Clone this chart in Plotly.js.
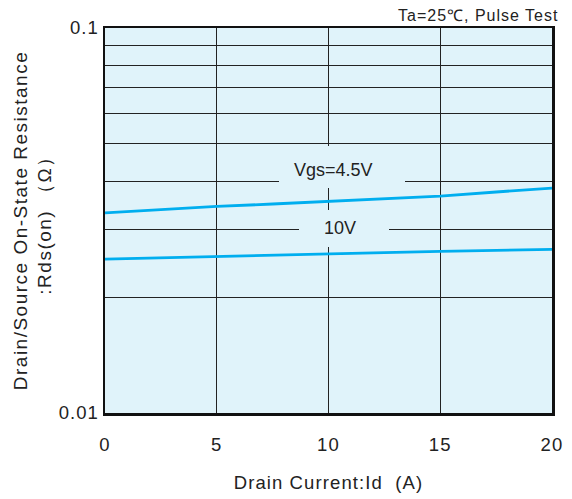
<!DOCTYPE html>
<html>
<head>
<meta charset="utf-8">
<script src="https://cdn.plot.ly/plotly-3.0.1.min.js"></script>
<style>
html,body{margin:0;padding:0;background:#fff;}
#chart{width:572px;height:499px;}
#chart .xtick text{letter-spacing:1.2px;}
#chart .ytick text{letter-spacing:1px;}
#chart .g-xtitle text{letter-spacing:1.1px;}
#chart .g-ytitle text{letter-spacing:1.5px;}
#chart .cond text{letter-spacing:1px;}
</style>
</head>
<body>
<div id="chart"></div>
<script>
// Data
var drainCurrent = [0, 2.5, 5, 7.5, 10, 12.5, 15, 17.5, 20];
var rdsVgs45 = [0.0331, 0.0338, 0.0344, 0.0349, 0.0355, 0.0361, 0.0366, 0.0375, 0.0384];
var rdsVgs10 = [0.0251, 0.0253, 0.0256, 0.0258, 0.0260, 0.0261, 0.0263, 0.0265, 0.0266];
var seriesNames = ["Vgs=4.5V", "10V"];
var yTickVals = [0.01, 0.02, 0.03, 0.04, 0.05, 0.06, 0.07, 0.08, 0.09, 0.1];
var yTickText = ["0.01", "", "", "", "", "", "", "", "", "0.1"];
var xTickVals = [0, 5, 10, 15, 20];
var conditionText = "Ta=25℃, Pulse Test";

var lineColor = "#00aeef";
var bg = "#e0f3fa";
var font = "Liberation Sans, Arial, sans-serif";
var txt = "#222";

var traces = [
  {x: drainCurrent, y: rdsVgs45, mode: "lines", name: seriesNames[0], line: {color: lineColor, width: 2.8}},
  {x: drainCurrent, y: rdsVgs10, mode: "lines", name: seriesNames[1], line: {color: lineColor, width: 2.8}}
];

function px2x(p){ return (p - 105) / 447; }
function py2y(p){ return (413 - p) / 385; }

var layout = {
  width: 572, height: 499,
  margin: {l: 105, r: 20, t: 28, b: 86},
  paper_bgcolor: "#fff",
  plot_bgcolor: bg,
  showlegend: false,
  font: {family: font, size: 18, color: txt},
  xaxis: {
    range: [0, 20], tickvals: xTickVals, ticks: "", showgrid: true,
    gridcolor: "#222", gridwidth: 1, zeroline: false,
    showline: true, linecolor: "#111", linewidth: 2.5, mirror: true,
    ticklabelstandoff: 13,
    tickfont: {size: 18.5, color: txt},
    title: {text: "Drain Current:Id  (A)", font: {size: 18.5, color: txt}, standoff: 23}
  },
  yaxis: {
    type: "log", range: [-2, -1], tickvals: yTickVals, ticktext: yTickText, ticks: "",
    showgrid: true, gridcolor: "#222", gridwidth: 1, zeroline: false,
    showline: true, linecolor: "#111", linewidth: 2.5, mirror: true,
    ticklabelstandoff: 0,
    tickfont: {size: 18.5, color: txt},
    title: {text: "Drain/Source On-State Resistance<br>:Rds(on) （Ω）", font: {size: 19, color: txt}, standoff: 6}
  },
  shapes: [
    {type: "rect", xref: "paper", yref: "paper", x0: px2x(279), x1: px2x(405), y0: py2y(188), y1: py2y(146),
     fillcolor: bg, line: {width: 0}, layer: "above"},
    {type: "rect", xref: "paper", yref: "paper", x0: px2x(299), x1: px2x(389), y0: py2y(247), y1: py2y(210),
     fillcolor: bg, line: {width: 0}, layer: "above"}
  ],
  annotations: [
    {text: seriesNames[0], xref: "paper", yref: "paper", x: px2x(333), y: py2y(170), showarrow: false,
     font: {size: 18, color: txt}, xanchor: "center", yanchor: "middle"},
    {text: seriesNames[1], xref: "paper", yref: "paper", x: px2x(340), y: py2y(228), showarrow: false,
     font: {size: 18, color: txt}, xanchor: "center", yanchor: "middle"},
    {text: conditionText, xref: "paper", yref: "paper", x: 1, y: py2y(16), showarrow: false,
     font: {size: 16, color: txt}, xanchor: "right", yanchor: "middle"}
  ]
};

Plotly.newPlot("chart", traces, layout, {staticPlot: true, displayModeBar: false}).then(function(){
  var anns = document.querySelectorAll("#chart .annotation");
  if (anns.length) anns[anns.length - 1].classList.add("cond");
});
</script>
</body>
</html>
